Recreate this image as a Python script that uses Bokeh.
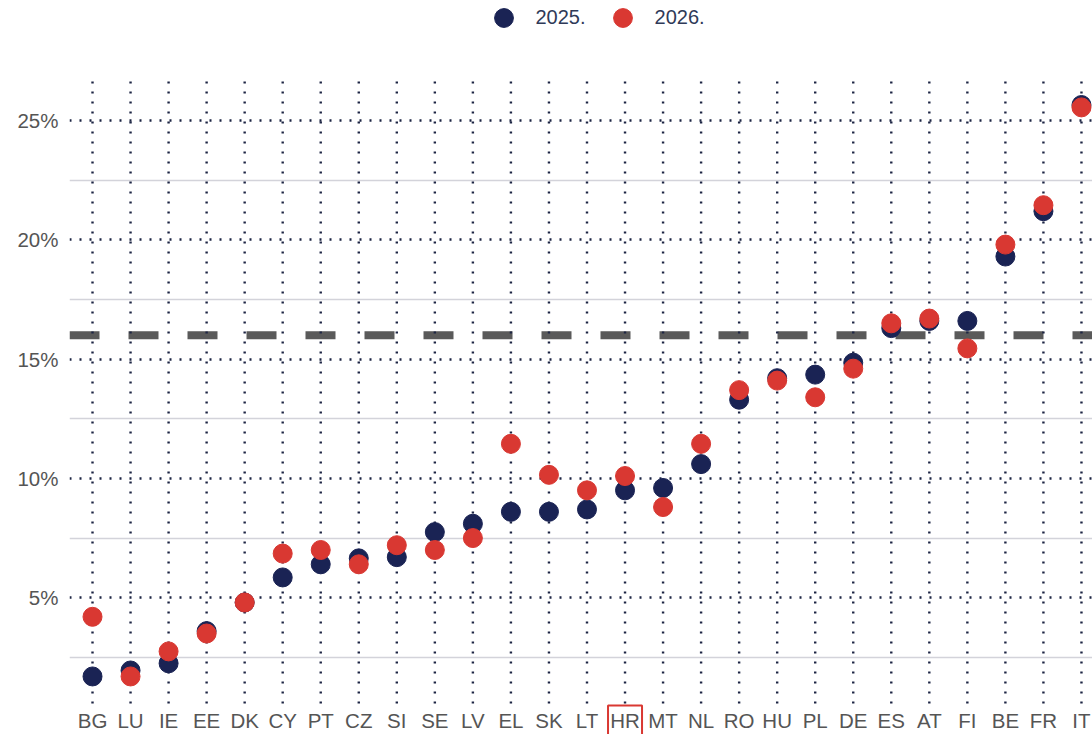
from bokeh.plotting import figure
from bokeh.models import (Range1d, FixedTicker, Grid, Span, Legend, LegendItem,
                          ColumnDataSource)
from bokeh.core.properties import value
from bokeh.embed import file_html
from bokeh.resources import INLINE

# ---- data -------------------------------------------------------------
countries = ["BG", "LU", "IE", "EE", "DK", "CY", "PT", "CZ", "SI", "SE", "LV",
             "EL", "SK", "LT", "HR", "MT", "NL", "RO", "HU", "PL", "DE", "ES",
             "AT", "FI", "BE", "FR", "IT"]
v2025 = [1.7, 1.95, 2.25, 3.6, 4.8, 5.85, 6.4, 6.65, 6.7, 7.75, 8.1, 8.6, 8.6,
         8.7, 9.5, 9.6, 10.6, 13.3, 14.2, 14.35, 14.85, 16.3, 16.6, 16.6, 19.3,
         21.2, 25.65]
v2026 = [4.2, 1.7, 2.75, 3.5, 4.8, 6.85, 7.0, 6.4, 7.2, 7.0, 7.5, 11.45, 10.15,
         9.5, 10.1, 8.8, 11.45, 13.7, 14.1, 13.4, 14.6, 16.5, 16.7, 15.45, 19.8,
         21.45, 25.55]
series_names = ["2025.", "2026."]
eu_average = 16.0
highlight = "HR"
y_ticks = [5, 10, 15, 20, 25]
y_labels = ["5%", "10%", "15%", "20%", "25%"]
y_minor = [2.5, 7.5, 12.5, 17.5, 22.5]

# ---- layout / styles -------------------------------------------------
NAVY = "#1a2354"
RED = "#d93832"
FONT = "Liberation Sans"
Y_VIEW = (-0.733, 30.03)      # full figure height in value units
GRID_TOP, GRID_BOTTOM = 26.76, 0.57   # extent of the vertical dotted lines
LABEL_Y = -0.15               # row of category labels

idx = list(range(len(countries)))
src = ColumnDataSource(dict(x=idx, a=v2025, b=v2026, name=countries,
                            g0=[GRID_BOTTOM] * len(idx),
                            g1=[GRID_TOP] * len(idx),
                            ly=[LABEL_Y] * len(idx)))

p = figure(width=1092, height=734, output_backend="svg", toolbar_location=None,
           x_range=Range1d(-0.605, 26.29), y_range=Range1d(*Y_VIEW),
           x_axis_location=None,
           min_border_left=69, min_border_right=0, min_border_top=0,
           min_border_bottom=0)
p.outline_line_color = None
p.background_fill_color = "white"

# y axis
p.yaxis.ticker = FixedTicker(ticks=y_ticks)
p.yaxis.major_label_overrides = {t: l for t, l in zip(y_ticks, y_labels)}
p.yaxis.axis_line_color = None
p.yaxis.major_tick_line_color = None
p.yaxis.major_tick_out = 0
p.yaxis.major_tick_in = 0
p.yaxis.minor_tick_line_color = None
p.yaxis.major_label_text_font = FONT
p.yaxis.major_label_text_font_size = "20.5px"
p.yaxis.major_label_text_color = "#555555"
p.yaxis.major_label_standoff = 11

# grids
p.xgrid.grid_line_color = None
p.ygrid.ticker = FixedTicker(ticks=y_ticks)
p.ygrid.grid_line_color = "#1c2443"
p.ygrid.grid_line_width = 2.4
p.ygrid.grid_line_dash = "2 8"

solid = Grid(dimension=1, ticker=FixedTicker(ticks=y_minor),
             grid_line_color="#d3d3da", grid_line_width=1.5)
p.add_layout(solid)

avg = Span(location=eu_average, dimension="width", line_color="#5a5a5a",
           line_width=8, line_dash="30 29", level="image")
p.add_layout(avg)

# vertical dotted guide lines per category
p.segment(x0="x", y0="g0", x1="x", y1="g1", source=src, line_color="#1c2443",
          line_width=2.4, line_dash="2 8")

r1 = p.scatter("x", "a", source=src, size=19, fill_color=NAVY, line_color=NAVY)
r2 = p.scatter("x", "b", source=src, size=19, fill_color=RED, line_color=RED)

# category labels
p.text(x="x", y="ly", text="name", source=src, text_align="center",
       text_baseline="middle", text_font=value(FONT), text_font_size="20.5px",
       text_color="#555555")

# highlight box around HR
hi = countries.index(highlight)
p.rect(x=[hi], y=[LABEL_Y], width=34, height=30, width_units="screen",
       height_units="screen", fill_color=None, line_color=RED, line_width=2)

legend = Legend(items=[LegendItem(label=series_names[0], renderers=[r1]),
                       LegendItem(label=series_names[1], renderers=[r2])],
                orientation="horizontal", location=(410.5, 693.5),
                glyph_width=47, glyph_height=47, label_standoff=9, spacing=13,
                padding=0, margin=0, border_line_color=None,
                background_fill_alpha=0, label_text_font=FONT,
                label_text_font_size="20px", label_text_color="#2f3a58")
p.add_layout(legend)

open("out.html", "w").write(file_html(p, INLINE))
